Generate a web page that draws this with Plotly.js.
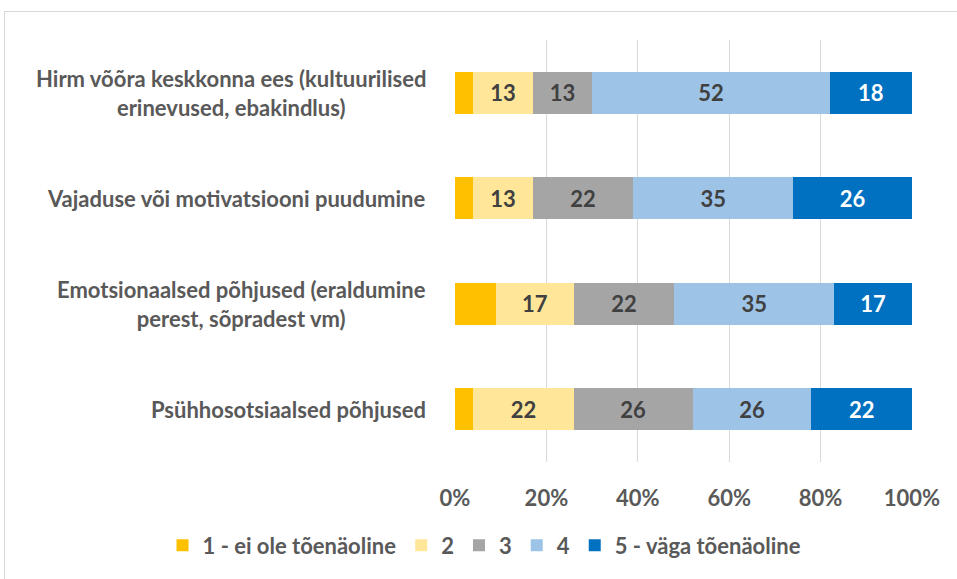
<!DOCTYPE html>
<html><head><meta charset="utf-8">
<script src="https://cdn.plot.ly/plotly-3.0.1.min.js"></script>
<style>
html,body{margin:0;padding:0;background:#fff;}
#wrap{position:relative;width:957px;height:579px;overflow:hidden;}
#frame{position:absolute;left:4px;top:11px;width:960px;height:600px;border-top:1px solid #d9d9d9;border-left:1px solid #d9d9d9;pointer-events:none;}
#chart{position:absolute;left:0;top:0;width:957px;height:579px;}
</style></head>
<body><div id="wrap"><div id="chart"></div><div id="frame"></div></div>
<script>
const categories = [
  "Hirm võõra keskkonna ees (kultuurilised<br>erinevused, ebakindlus)",
  "Vajaduse või motivatsiooni puudumine",
  "Emotsionaalsed põhjused (eraldumine<br>perest, sõpradest vm)",
  "Psühhosotsiaalsed põhjused"
];
const seriesNames = ["1 - ei ole tõenäoline", "2", "3", "4", "5 - väga tõenäoline"];
const s1 = [4, 4, 9, 4];
const s2 = [13, 13, 17, 22];
const s3 = [13, 22, 22, 26];
const s4 = [52, 35, 35, 26];
const s5 = [18, 26, 17, 22];
const showLabels = [false, true, true, true, true];
const colors = ["#FFC000", "#FFE699", "#A5A5A5", "#9DC3E6", "#0070C0"];
const textColors = ["#404040", "#404040", "#404040", "#404040", "#FFFFFF"];
const tickVals = [0, 20, 40, 60, 80, 100];
const tickText = ["0%", "20%", "40%", "60%", "80%", "100%"];

const FONT = "Lato, 'Open Sans', sans-serif";
const all = [s1, s2, s3, s4, s5];
const traces = all.map((vals, i) => ({
  type: "bar",
  orientation: "h",
  name: seriesNames[i],
  x: vals,
  y: categories,
  marker: {color: colors[i], line: {width: 0}},
  text: showLabels[i] ? vals.map(String) : vals.map(() => ""),
  textposition: "inside",
  insidetextanchor: "middle",
  constraintext: "none",
  textfont: {family: FONT, size: 22, color: textColors[i], weight: "bold"},
  hoverinfo: "none"
}));

const annotations = categories.map(c => ({
  xref: "paper", yref: "y", x: 0, y: c, xanchor: "right", yanchor: "middle",
  xshift: -27, text: c, align: "center", showarrow: false,
  font: {family: FONT, size: 22, color: "#595959", weight: "bold"}
}));

const layout = {
  width: 957, height: 579,
  margin: {l: 455, r: 45, t: 40, b: 115},
  barmode: "stack",
  bargap: 0.6,
  paper_bgcolor: "rgba(0,0,0,0)",
  plot_bgcolor: "rgba(0,0,0,0)",
  showlegend: true,
  legend: {
    orientation: "h", x: -0.64, xanchor: "left",
    y: -0.198, yanchor: "middle",
    font: {family: FONT, size: 22, color: "#595959", weight: "bold"},
    traceorder: "normal", itemclick: false, itemwidth: 30
  },
  xaxis: {
    range: [0, 100], tickvals: tickVals, ticktext: tickText,
    showgrid: true, gridcolor: "#d9d9d9", gridwidth: 1, zeroline: false,
    showline: false, ticks: "outside", ticklen: 17, tickcolor: "rgba(0,0,0,0)",
    tickfont: {family: FONT, size: 22, color: "#595959", weight: "bold"},
    fixedrange: true
  },
  yaxis: {
    autorange: "reversed", showticklabels: false, showgrid: false,
    zeroline: false, showline: false, fixedrange: true
  },
  annotations: annotations
};
Plotly.newPlot("chart", traces, layout, {displayModeBar: false, staticPlot: true});
</script></body></html>
